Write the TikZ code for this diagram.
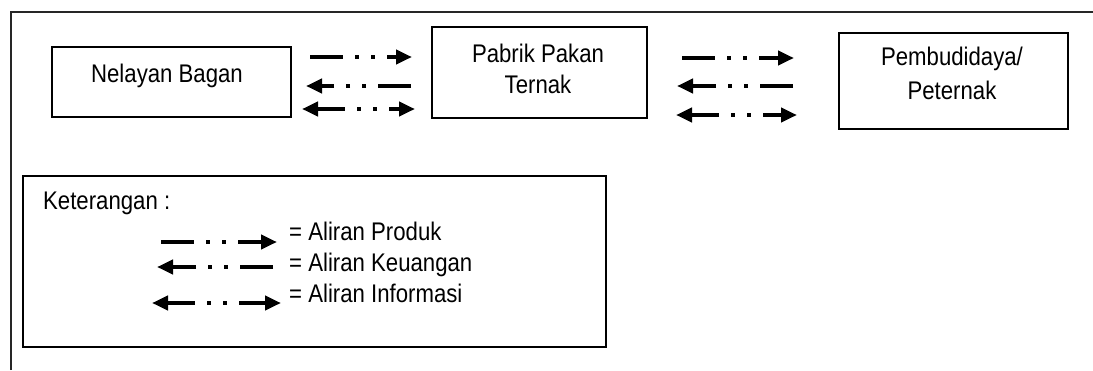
\documentclass[tikz,border=0pt]{standalone}
\usepackage{fontspec}
\setmainfont{Liberation Sans}[FakeStretch=0.87]
\usetikzlibrary{arrows.meta}

\tikzset{
  frameline/.style={line width=1.3pt, black!85},
  box/.style={draw, line width=1.5pt, rectangle, inner sep=0pt, anchor=north west},
  txt/.style={inner sep=0pt, font=\fontsize{25.5}{30}\selectfont},
  flow/.style={line width=4pt, line cap=butt,
    dash pattern=on 33pt off 12pt on 4pt off 12pt on 4pt off 12pt on 300pt},
  flowboth/.style={line width=4pt, line cap=butt,
    dash pattern=on 28pt off 12pt on 4pt off 12pt on 4pt off 12pt on 300pt},
  head/.style={-{Triangle[length=16pt,width=14pt]}},
  heads/.style={{Triangle[length=16pt,width=14pt]}-{Triangle[length=16pt,width=14pt]}},
}

\begin{document}
\begin{tikzpicture}[x=1pt,y=-1pt]
\useasboundingbox (0,0) rectangle (1093,370);

% open frame: top and left edges only
\draw[frameline] (11,370) -- (11,12) -- (1093,12);

% actors
\node[box, minimum width=239pt, minimum height=70pt] (nelayan) at (51,46) {};
\node[box, minimum width=215pt, minimum height=91pt] (pabrik) at (431,26) {};
\node[box, minimum width=229pt, minimum height=96pt] (pembudidaya) at (838,32) {};

\node[txt, anchor=base] (nelayanT) at (167,82) {Nelayan Bagan};
\node[txt, anchor=base] (pabrikT1) at (538,62) {Pabrik Pakan};
\node[txt, anchor=base] (pabrikT2) at (538,93) {Ternak};
\node[txt, anchor=base] (pembT1) at (952,65) {Pembudidaya/};
\node[txt, anchor=base] (pembT2) at (952,99) {Peternak};

% flow arrow end points between the actors
\coordinate (a1s) at (310,57);  \coordinate (a1e) at (412,57);
\coordinate (a2s) at (411,86);  \coordinate (a2e) at (306,86);
\coordinate (a3s) at (302,109); \coordinate (a3e) at (415,109);
\coordinate (b1s) at (682,58);  \coordinate (b1e) at (794,58);
\coordinate (b2s) at (793,86);  \coordinate (b2e) at (677,86);
\coordinate (b3s) at (676,115); \coordinate (b3e) at (797,115);

\draw[flow, head] (a1s) -- (a1e);
\draw[flow, head] (a2s) -- (a2e);
\draw[flowboth, heads] (a3s) -- (a3e);
\draw[flow, head] (b1s) -- (b1e);
\draw[flow, head] (b2s) -- (b2e);
\draw[flowboth, heads] (b3s) -- (b3e);

% legend
\node[box, minimum width=583pt, minimum height=171pt] (legend) at (22,175) {};
\node[txt, anchor=base west] (ket) at (43,209) {Keterangan :};

\coordinate (l1s) at (161,242); \coordinate (l1e) at (277,242);
\coordinate (l2s) at (273,267); \coordinate (l2e) at (157,267);
\coordinate (l3s) at (152,303); \coordinate (l3e) at (281,303);
\draw[flow, head] (l1s) -- (l1e);
\draw[flow, head] (l2s) -- (l2e);
\draw[flowboth, heads] (l3s) -- (l3e);

\node[txt, anchor=base west] (ketP) at (289,240) {= Aliran Produk};
\node[txt, anchor=base west] (ketK) at (289,271) {= Aliran Keuangan};
\node[txt, anchor=base west] (ketI) at (289,302) {= Aliran Informasi};
\end{tikzpicture}
\end{document}
